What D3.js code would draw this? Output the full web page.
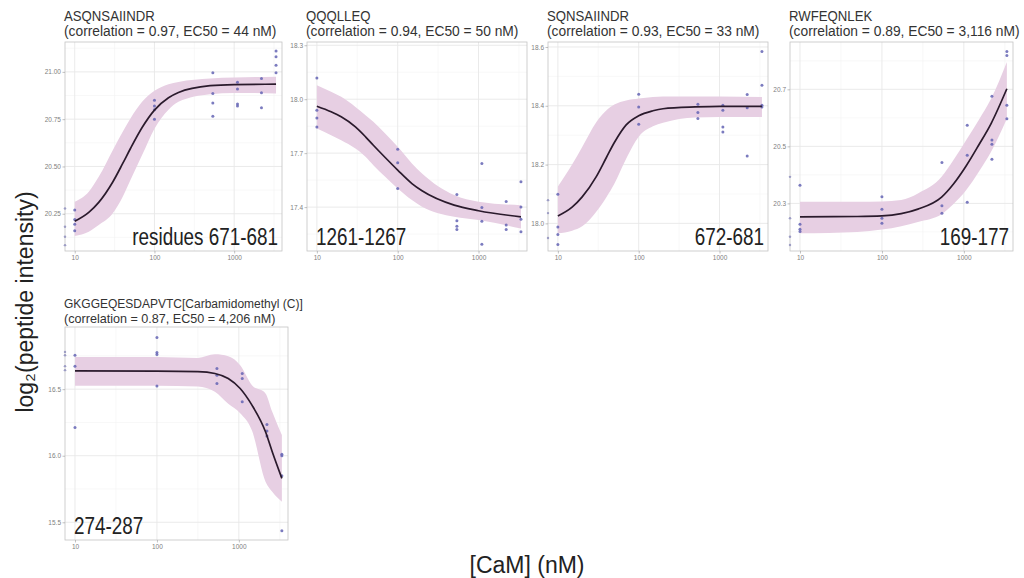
<!DOCTYPE html>
<html>
<head>
<meta charset="utf-8">
<script src="https://cdn.jsdelivr.net/npm/d3@7"></script>
<style>
  body { margin: 0; background: #fff; }
  svg { display: block; font-family: "Liberation Sans", Arial, sans-serif; }
</style>
</head>
<body>
<svg id="chart" width="1024" height="578"></svg>
<script>
// ---- values ----
const peptides = ['ASQNSAIINDR', 'QQQLLEQ', 'SQNSAIINDR', 'RWFEQNLEK', 'GKGGEQESDAPVTC[Carbamidomethyl (C)]'];
const fitStats = [
  '(correlation = 0.97, EC50 = 44 nM)',
  '(correlation = 0.94, EC50 = 50 nM)',
  '(correlation = 0.93, EC50 = 33 nM)',
  '(correlation = 0.89, EC50 = 3,116 nM)',
  '(correlation = 0.87, EC50 = 4,206 nM)'
];
const residues = ['residues 671-681', '1261-1267', '672-681', '169-177', '274-287'];

const doses = [10, 100, 540, 1100, 2200, 3350];
const xTicks = [10, 100, 1000];

const yTicks1 = [20.25, 20.5, 20.75, 21.0];
const yTicks2 = [17.4, 17.7, 18.0, 18.3];
const yTicks3 = [18.0, 18.2, 18.4, 18.6];
const yTicks4 = [20.3, 20.5, 20.7];
const yTicks5 = [15.5, 16.0, 16.5];
const yLimits = [[20.053, 21.158], [17.156, 18.318], [17.906, 18.617], [20.133, 20.866], [15.367, 16.967]];

// replicate intensities, one list per dose
const reps1 = [[20.27, 20.22, 20.195, 20.16], [20.85, 20.82, 20.80, 20.75], [20.995, 20.886, 20.836, 20.766],
  [20.945, 20.91, 20.83, 20.82], [20.965, 20.89, 20.81], [21.11, 21.08, 21.035, 20.995]];
const reps2 = [[18.118, 17.939, 17.896, 17.846], [17.722, 17.646, 17.504], [17.47, 17.324, 17.294, 17.276],
  [17.643, 17.398, 17.322, 17.193], [17.431, 17.3, 17.276], [17.541, 17.4, 17.333, 17.263]];
const reps3 = [[18.099, 17.988, 17.962, 17.928], [18.439, 18.396, 18.337], [18.405, 18.377, 18.357],
  [18.402, 18.385, 18.328, 18.311], [18.438, 18.393, 18.229], [18.585, 18.47, 18.402, 18.396]];
const reps4 = [[20.364, 20.227, 20.209, 20.201], [20.323, 20.279, 20.248, 20.23], [20.443, 20.292, 20.265],
  [20.574, 20.469, 20.304], [20.676, 20.522, 20.507, 20.455], [20.833, 20.819, 20.644, 20.597]];
const reps5 = [[16.755, 16.673, 16.213], [16.888, 16.775, 16.76, 16.523], [16.655, 16.605, 16.543],
  [16.618, 16.58, 16.405], [16.235, 16.185, 16.148], [16.012, 16.0, 15.85, 15.437]];

// dots cut by the left frame
const edge1 = [20.278, 20.181, 20.128, 20.084];
const edge3 = [18.079, 18.035, 17.95];
const edge4 = [20.393, 20.248, 20.183, 20.154];
const edge5 = [16.78, 16.755, 16.673, 16.643];

// fitted curve and band
const fitDose = [10, 15, 20, 30, 40, 50, 70, 100, 150, 200, 500, 1000, 3350];
const fit1 = [20.21, 20.257, 20.31, 20.418, 20.516, 20.595, 20.706, 20.798, 20.863, 20.891, 20.927, 20.933, 20.935];
const hi1 = [20.313, 20.366, 20.445, 20.586, 20.683, 20.754, 20.842, 20.9, 20.935, 20.947, 20.965, 20.97, 20.974];
const lo1 = [20.132, 20.155, 20.19, 20.252, 20.34, 20.428, 20.56, 20.7, 20.8, 20.842, 20.882, 20.889, 20.886];
const fit2 = [17.961, 17.93, 17.902, 17.846, 17.791, 17.744, 17.676, 17.606, 17.531, 17.491, 17.411, 17.38, 17.346];
const hi2 = [18.078, 18.041, 18.013, 17.957, 17.911, 17.874, 17.809, 17.735, 17.643, 17.587, 17.467, 17.43, 17.411];
const lo2 = [17.837, 17.8, 17.772, 17.726, 17.68, 17.633, 17.569, 17.504, 17.439, 17.402, 17.346, 17.328, 17.281];
const fit3 = [18.025, 18.055, 18.09, 18.16, 18.225, 18.275, 18.335, 18.366, 18.383, 18.39, 18.396, 18.398, 18.398];
const hi3 = [18.125, 18.2, 18.26, 18.345, 18.385, 18.404, 18.418, 18.425, 18.43, 18.432, 18.432, 18.432, 18.43];
const lo3 = [17.966, 17.975, 17.99, 18.04, 18.09, 18.135, 18.22, 18.295, 18.33, 18.342, 18.36, 18.362, 18.362];
const fitDose4 = [10, 50, 100, 172, 275, 535, 747, 1070, 1515, 2150, 3350];
const fit4 = [20.253, 20.254, 20.256, 20.264, 20.28, 20.322, 20.368, 20.432, 20.504, 20.58, 20.702];
const hi4 = [20.306, 20.306, 20.307, 20.312, 20.335, 20.393, 20.452, 20.522, 20.592, 20.667, 20.796];
const lo4 = [20.195, 20.2, 20.208, 20.22, 20.235, 20.262, 20.298, 20.347, 20.41, 20.481, 20.597];
const fitDose5 = [10, 100, 316, 510, 742, 1038, 1445, 2115, 2555, 3350];
const fit5 = [16.637, 16.636, 16.632, 16.618, 16.58, 16.505, 16.38, 16.18, 16.03, 15.83];
const hi5 = [16.742, 16.742, 16.735, 16.762, 16.748, 16.68, 16.53, 16.468, 16.33, 16.155];
const lo5 = [16.525, 16.525, 16.52, 16.48, 16.39, 16.32, 16.19, 15.805, 15.73, 15.655];

// ---- layout ----
const svg = d3.select('#chart');
const boxes = [
  { x0: 65, x1: 282, y0: 42, y1: 251 },
  { x0: 307, x1: 527, y0: 42, y1: 251 },
  { x0: 548, x1: 768, y0: 42, y1: 251 },
  { x0: 790, x1: 1013, y0: 42, y1: 251 },
  { x0: 65, x1: 288, y0: 327, y1: 540 }
];
const panels = [
  { reps: reps1, edge: edge1, fx: fitDose, fit: fit1, hi: hi1, lo: lo1, ticks: yTicks1, fmt: '.2f' },
  { reps: reps2, edge: [], fx: fitDose, fit: fit2, hi: hi2, lo: lo2, ticks: yTicks2, fmt: '.1f' },
  { reps: reps3, edge: edge3, fx: fitDose, fit: fit3, hi: hi3, lo: lo3, ticks: yTicks3, fmt: '.1f' },
  { reps: reps4, edge: edge4, fx: fitDose4, fit: fit4, hi: hi4, lo: lo4, ticks: yTicks4, fmt: '.1f' },
  { reps: reps5, edge: edge5, fx: fitDose5, fit: fit5, hi: hi5, lo: lo5, ticks: yTicks5, fmt: '.1f' }
];

// squeeze text horizontally, the reference labels are narrower than Arial
function squeeze(sel, k) {
  sel.each(function() {
    const w = this.getComputedTextLength();
    d3.select(this).attr('textLength', w * k).attr('lengthAdjust', 'spacingAndGlyphs');
  });
}

panels.forEach((p, i) => {
  const b = boxes[i];
  const x = d3.scaleLog().domain([7.55, 3980]).range([b.x0, b.x1]);
  const y = d3.scaleLinear().domain(yLimits[i]).range([b.y1, b.y0]);
  const g = svg.append('g');

  // grid
  const step = p.ticks[1] - p.ticks[0];
  const yMinor = [p.ticks[0] - step / 2].concat(p.ticks.map(t => t + step / 2))
    .filter(v => v > yLimits[i][0] && v < yLimits[i][1]);
  const xMinor = xTicks.map(t => t * Math.sqrt(10)).filter(v => v < 3980);
  g.selectAll('.ymin').data(yMinor).enter().append('line')
    .attr('x1', b.x0).attr('x2', b.x1).attr('y1', d => y(d)).attr('y2', d => y(d))
    .attr('stroke', '#f4f4f4').attr('stroke-width', 0.6);
  g.selectAll('.xmin').data(xMinor).enter().append('line')
    .attr('y1', b.y0).attr('y2', b.y1).attr('x1', d => x(d)).attr('x2', d => x(d))
    .attr('stroke', '#f4f4f4').attr('stroke-width', 0.6);
  g.selectAll('.ymaj').data(p.ticks).enter().append('line')
    .attr('x1', b.x0).attr('x2', b.x1).attr('y1', d => y(d)).attr('y2', d => y(d))
    .attr('stroke', '#e8e8e8').attr('stroke-width', 0.9);
  g.selectAll('.xmaj').data(xTicks).enter().append('line')
    .attr('y1', b.y0).attr('y2', b.y1).attr('x1', d => x(d)).attr('x2', d => x(d))
    .attr('stroke', '#e8e8e8').attr('stroke-width', 0.9);

  // confidence band + fit
  const band = p.fx.map((d, j) => ({ d, lo: p.lo[j], hi: p.hi[j], v: p.fit[j] }));
  g.append('path').datum(band)
    .attr('fill', '#e7cfe3')
    .attr('d', d3.area().curve(d3.curveMonotoneX).x(d => x(d.d)).y0(d => y(d.lo)).y1(d => y(d.hi)));

  // replicates
  const pts = [];
  p.reps.forEach((vals, j) => vals.forEach(v => pts.push({ d: doses[j], v })));
  g.selectAll('.pt').data(pts).enter().append('circle')
    .attr('cx', d => x(d.d)).attr('cy', d => y(d.v)).attr('r', 1.5)
    .attr('fill', '#6464b4').attr('opacity', 0.85);
  g.selectAll('.edge').data(p.edge).enter().append('circle')
    .attr('cx', x(7.55)).attr('cy', d => y(d)).attr('r', 1.2)
    .attr('fill', '#6464b4').attr('opacity', 0.8);

  g.append('path').datum(band)
    .attr('fill', 'none').attr('stroke', '#2a1a2c').attr('stroke-width', 1.7)
    .attr('d', d3.line().curve(d3.curveMonotoneX).x(d => x(d.d)).y(d => y(d.v)));

  // frame
  g.append('rect').attr('x', b.x0).attr('y', b.y0)
    .attr('width', b.x1 - b.x0).attr('height', b.y1 - b.y0)
    .attr('fill', 'none').attr('stroke', '#c4c4c4').attr('stroke-width', 0.8);

  // axes
  const yAxis = g.append('g').attr('transform', `translate(${b.x0},0)`)
    .call(d3.axisLeft(y).tickValues(p.ticks).tickFormat(d3.format(p.fmt)).tickSize(2.5).tickPadding(1.5));
  const xAxis = g.append('g').attr('transform', `translate(0,${b.y1})`)
    .call(d3.axisBottom(x).tickValues(xTicks).tickFormat(d3.format('d')).tickSize(2.5).tickPadding(1.5));
  [yAxis, xAxis].forEach(a => {
    a.select('.domain').remove();
    a.selectAll('line').attr('stroke', '#999').attr('stroke-width', 0.6);
    a.selectAll('text').attr('fill', '#808080').attr('font-size', 6.5)
      .attr('font-family', '"Liberation Sans", Arial, sans-serif');
  });

  // titles
  const small = i === 4;
  const title = g.append('text').attr('x', b.x0 - 1).attr('y', b.y0 - (small ? 18.7 : 21.3))
    .attr('font-size', small ? 12 : 15.5).attr('fill', '#333').text(peptides[i]);
  if (!small) squeeze(title, 0.85);
  g.append('text').attr('x', b.x0 - 1).attr('y', b.y0 - (small ? 3.7 : 6))
    .attr('font-size', small ? 12.6 : 13.8).attr('fill', '#333').text(fitStats[i]);

  // residue range label
  const right = i === 0 || i === 2 || i === 3;
  const lab = g.append('text')
    .attr('x', right ? b.x1 - 4 : b.x0 + 9)
    .attr('y', b.y1 - 6.5)
    .attr('text-anchor', right ? 'end' : 'start')
    .attr('font-size', 23).attr('fill', '#222').text(residues[i]);
  squeeze(lab, 0.82);
});

// shared axis titles
svg.append('text').attr('transform', 'translate(33,302) rotate(-90)')
  .attr('text-anchor', 'middle').attr('font-size', 23).attr('fill', '#222')
  .text('log\u2082(peptide intensity)');
svg.append('text').attr('x', 527).attr('y', 573)
  .attr('text-anchor', 'middle').attr('font-size', 23).attr('fill', '#222')
  .text('[CaM] (nM)');
</script>
</body>
</html>
